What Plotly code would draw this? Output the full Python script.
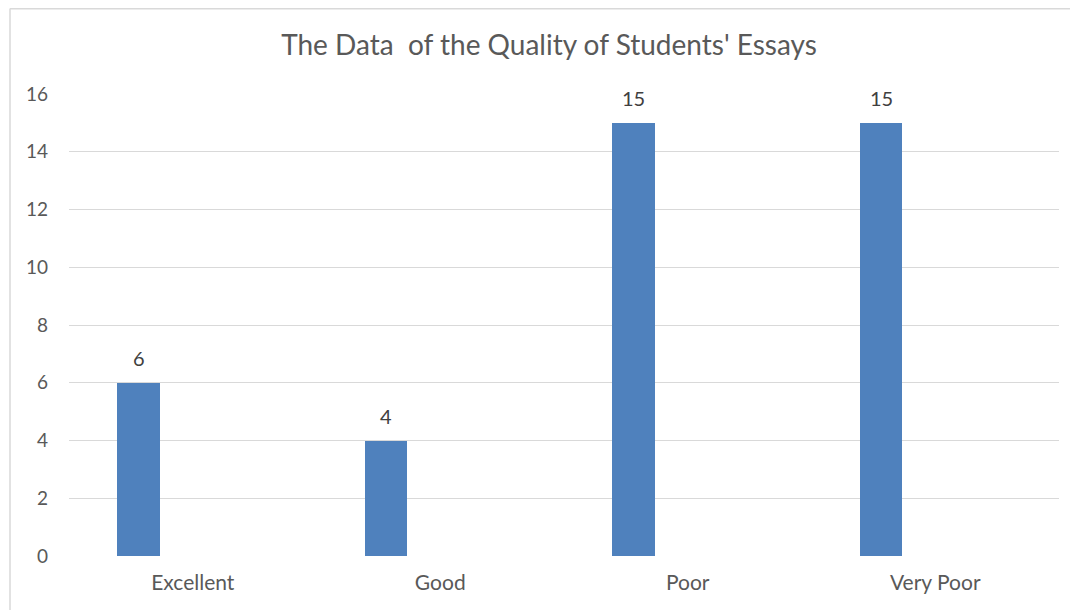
import plotly.graph_objects as go

categories = ["Excellent", "Good", "Poor", "Very Poor"]
values = [6, 4, 15, 15]
y_ticks = [0, 2, 4, 6, 8, 10, 12, 14, 16]
title_text = "The Data  of the Quality of Students' Essays"

FONT = "Lato"
GRAY = "#595959"
BAR_W = 0.172
BAR_OFF = -0.305

fig = go.Figure()
fig.add_trace(go.Bar(
    x=categories, y=values,
    marker=dict(color="#4f81bd", line=dict(width=0)),
    width=BAR_W, offset=BAR_OFF,
    showlegend=False, hoverinfo="x+y",
))

# page has an 8px body margin; figure coordinates are page minus 8
OFF = 8
W, H = 1078 - OFF, 610 - OFF
L, R, T, B = 69 - OFF, 19, 94 - OFF, 54
pw, ph = W - L - R, H - T - B

def px_x(x):
    return (x - OFF - L) / pw

def px_y(y):
    return (H - B - (y - OFF)) / ph

annotations = [
    dict(x=i + BAR_OFF + BAR_W / 2, y=v, xref="x", yref="y", text=str(v), showarrow=False,
         yanchor="middle", xanchor="center", yshift=25,
         font=dict(family=FONT, size=20, color="#404040"))
    for i, v in enumerate(values)
]

fig.update_layout(
    width=W, height=H,
    margin=dict(l=L, r=R, t=T, b=B),
    paper_bgcolor="white", plot_bgcolor="white",
    font=dict(family=FONT, color=GRAY),
    title=dict(text=title_text, x=(549 - OFF) / W, xanchor="center", y=1 - (45 - OFF) / H, yanchor="middle",
               xref="container", yref="container",
               font=dict(family=FONT, size=28, color=GRAY)),
    xaxis=dict(showgrid=False, showline=False, ticks="", zeroline=False,
               tickfont=dict(family=FONT, size=21, color=GRAY), ticklabelstandoff=12),
    yaxis=dict(range=[0, 16], tickvals=y_ticks, showgrid=True, gridcolor="#d9d9d9", gridwidth=1.4,
               zeroline=False, showline=False, ticks="",
               tickfont=dict(family=FONT, size=19, color=GRAY), ticklabelstandoff=20),
    annotations=annotations,
    shapes=[
        dict(type="line", xref="paper", yref="paper", x0=px_x(10), x1=px_x(10), y0=px_y(8.5), y1=px_y(640),
             line=dict(color="#d9d9d9", width=1.5)),
        dict(type="line", xref="paper", yref="paper", x0=px_x(10), x1=px_x(1100), y0=px_y(8.7), y1=px_y(8.7),
             line=dict(color="#d9d9d9", width=1.5)),
    ],
    bargap=0,
)

fig.write_html("out.html")
